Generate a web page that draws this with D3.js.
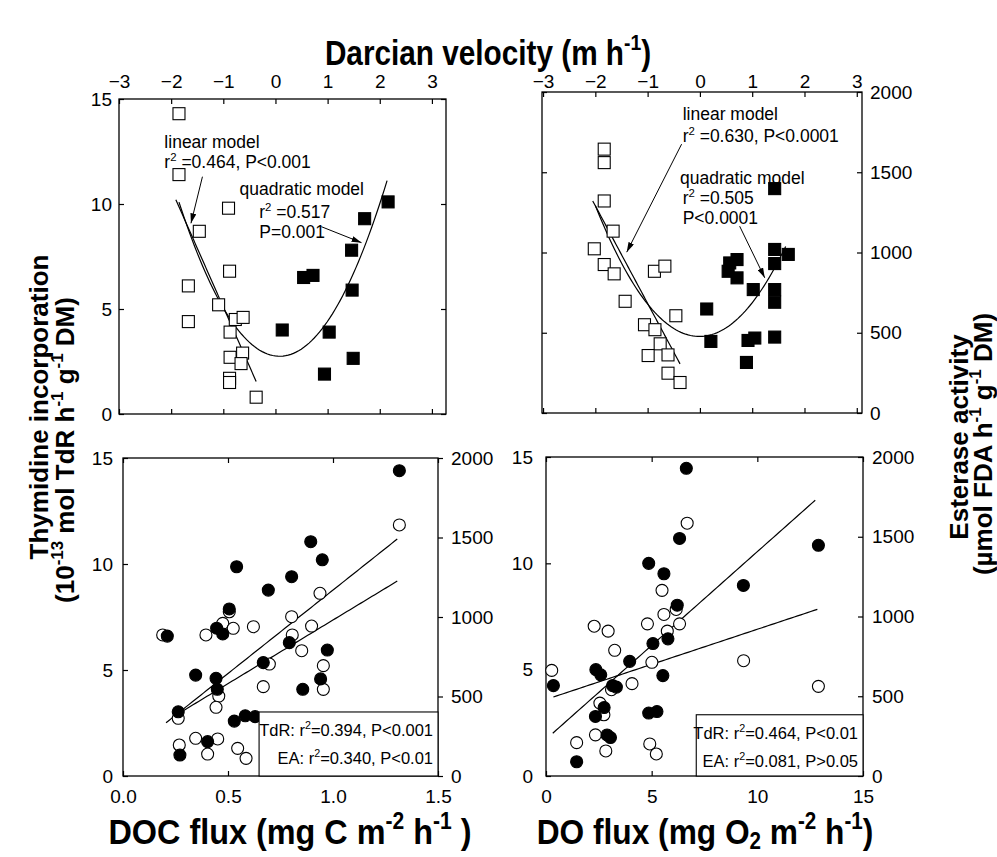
<!DOCTYPE html>
<html>
<head>
<meta charset="UTF-8">
<title>Darcian velocity</title>
<script src="https://d3js.org/d3.v7.min.js"></script>
<style>
  body { margin: 0; background: #fff; }
  svg { font-family: "Liberation Sans", Arial, Helvetica, sans-serif; }
  .tick text { font-size: 19px; fill: #000; font-family: "Liberation Sans", Arial, Helvetica, sans-serif; }
  .tick line { stroke: #000; stroke-width: 1.2; }
  .frame { fill: none; stroke: #000; stroke-width: 1.3; }
  .fit { fill: none; stroke: #000; stroke-width: 1.2; }
</style>
</head>
<body>
<svg width="997" height="857"></svg>
<script>
// ---- tick values ----
const velTicks = [-3, -2, -1, 0, 1, 2, 3];
const tdrTicks = [0, 5, 10, 15];
const eaTicks = [0, 500, 1000, 1500, 2000];
const docTicks = [0, 0.5, 1.0, 1.5];
const doTicks = [0, 5, 10, 15];

// ---- top left: thymidine incorporation vs Darcian velocity ----
const tdrVelDown = [[-1.85, 14.3], [-1.85, 11.4], [-0.90, 9.8], [-1.46, 8.7], [-0.88, 6.8], [-1.67, 6.1],
  [-1.09, 5.2], [-1.67, 4.4], [-0.77, 4.5], [-0.62, 4.6], [-0.87, 3.9], [-0.87, 2.7], [-0.63, 2.9],
  [-0.66, 2.4], [-0.88, 1.7], [-0.88, 1.5], [-0.37, 0.8]];
const tdrVelUp = [[2.16, 10.1], [1.71, 9.3], [1.46, 7.8], [0.54, 6.5], [0.72, 6.6], [1.47, 5.9],
  [0.13, 4.0], [1.03, 3.9], [1.49, 2.65], [0.94, 1.9]];

// ---- top right: esterase activity vs Darcian velocity ----
const eaVelDown = [[-1.83, 1644], [-1.83, 1560], [-1.83, 1321], [-1.66, 1133], [-2.02, 1023], [-1.83, 925],
  [-1.64, 867], [-0.87, 883], [-0.67, 915], [-1.43, 696], [-0.46, 606], [-1.06, 550], [-0.86, 519],
  [-0.76, 431], [-0.99, 358], [-0.61, 362], [-0.61, 248], [-0.38, 190]];
const eaVelUp = [[1.43, 1398], [1.43, 1019], [1.69, 988], [1.43, 931], [0.57, 935], [0.71, 956], [0.54, 883],
  [0.71, 842], [1.02, 769], [1.43, 769], [1.43, 690], [0.13, 648], [0.21, 446], [0.92, 452], [1.05, 467],
  [1.43, 473], [0.89, 315]];

// ---- bottom left: DOC flux ----
const docTdR = [[1.316, 14.4], [0.894, 11.05], [0.949, 10.2], [0.541, 9.87], [0.803, 9.4], [0.692, 8.77],
  [0.506, 7.88], [0.211, 6.6], [0.446, 6.97], [0.475, 6.7], [0.792, 6.29], [0.973, 5.94], [0.668, 5.35],
  [0.346, 4.76], [0.443, 4.61], [0.449, 4.09], [0.941, 4.58], [0.856, 4.09], [0.263, 3.03], [0.53, 2.59],
  [0.582, 2.84], [0.629, 2.8], [0.403, 1.62], [0.271, 0.99]];
const docEA = [[1.316, 1579], [0.938, 1149], [0.506, 1033], [0.803, 1002], [0.189, 887], [0.395, 887],
  [0.475, 960], [0.525, 929], [0.621, 939], [0.898, 943], [0.806, 887], [0.851, 788], [0.697, 704],
  [0.954, 694], [0.668, 562], [0.954, 545], [0.456, 503], [0.443, 432], [0.263, 363], [0.268, 195],
  [0.346, 237], [0.451, 233], [0.403, 138], [0.546, 174], [0.586, 111]];

// ---- bottom right: DO flux ----
const doTdR = [[6.64, 14.47], [6.32, 11.17], [4.86, 10.0], [5.58, 9.51], [9.34, 8.96], [6.21, 8.03],
  [5.06, 6.23], [5.77, 6.45], [3.96, 5.39], [2.36, 5.0], [2.59, 4.76], [5.53, 4.72], [0.35, 4.25],
  [3.15, 4.25], [3.33, 4.18], [2.75, 3.22], [2.34, 2.8], [4.86, 2.96], [5.25, 3.03], [2.89, 1.93],
  [3.05, 1.81], [1.45, 0.67], [12.89, 10.85]];
const doEA = [[6.68, 1585], [5.49, 1164], [5.58, 1013], [6.16, 1044], [6.32, 954], [5.74, 908], [4.80, 954],
  [2.28, 939], [2.94, 908], [3.25, 788], [5.01, 713], [0.27, 662], [4.07, 579], [3.10, 541], [2.55, 457],
  [2.74, 384], [2.34, 258], [1.45, 209], [2.83, 157], [4.91, 201], [5.22, 138], [9.35, 723], [12.89, 562]];

// ---- fitted models: polynomial coefficients [c0, c1, c2] and x range ----
const tdrVelLinear = { coef: [-0.53, -5.62], range: [-1.91, -0.37] };
const tdrVelQuad = { coef: [2.763, -0.315, 1.97], range: [-1.85, 2.14] };
const eaVelLinear = { coef: [75, -608], range: [-2.05, -0.38] };
const eaVelQuad = { coef: [477, 4.1, 206], range: [-2.0, 1.64] };
const docTdRFit = { coef: [0.90, 7.87], range: [0.205, 1.306] };
const docEAFit = { coef: [181, 800], range: [0.24, 1.306] };
const doTdRFit = { coef: [1.73, 0.882], range: [0.32, 12.74] };
const doEAFit = { coef: [480, 44], range: [0.35, 12.84] };

const svg = d3.select('svg');

const defs = svg.append('defs');
defs.append('marker').attr('id', 'arrow')
  .attr('viewBox', '0 0 10 6').attr('refX', 10).attr('refY', 3)
  .attr('markerWidth', 10).attr('markerHeight', 6).attr('markerUnits', 'userSpaceOnUse')
  .attr('orient', 'auto')
  .append('path').attr('d', 'M0,0 L10,3 L0,6 Z').attr('fill', '#000');

// text with super/subscripts
function rich(text, parts, size) {
  let shift = 0;
  parts.forEach(([t, mode]) => {
    const target = mode === 'sup' ? -0.42 : mode === 'sub' ? 0.14 : 0;
    text.append('tspan')
      .attr('dy', ((target - shift) * size).toFixed(2))
      .style('font-size', (mode ? size * 0.65 : size) + 'px')
      .text(t);
    shift = target;
  });
}

function label(x, y, parts, size, opt = {}) {
  const g = svg.append('g')
    .attr('transform', `translate(${x},${y}) rotate(${opt.rotate || 0}) scale(${opt.sx || 1},1)`);
  const t = g.append('text')
    .attr('text-anchor', opt.anchor || 'start')
    .style('font-size', size + 'px')
    .style('font-weight', opt.bold ? 'bold' : 'normal');
  rich(t, parts, size);
}

function polyCurve(fit, x, y) {
  const n = 80;
  const pts = d3.range(n + 1).map(i => {
    const v = fit.range[0] + (fit.range[1] - fit.range[0]) * i / n;
    const val = fit.coef.reduce((s, c, k) => s + c * Math.pow(v, k), 0);
    return [x(v), y(val)];
  });
  svg.append('path').attr('class', 'fit').attr('d', d3.line()(pts));
}

function frameAndAxes(p) {
  const [x0, x1] = p.x.range();
  const [yb, yt] = p.y.range();
  const clean = g => g.select('.domain').remove();

  svg.append('g').attr('transform', `translate(0,${yt})`)
    .call(d3.axisTop(p.x).tickValues(p.xTicks).tickSizeInner(-5).tickSizeOuter(0)
      .tickPadding(p.topPad || 0).tickFormat(p.topLabels ? p.xFmt : ''))
    .call(clean);
  svg.append('g').attr('transform', `translate(0,${yb})`)
    .call(d3.axisBottom(p.x).tickValues(p.xTicks).tickSizeInner(-5).tickSizeOuter(0)
      .tickPadding(p.bottomPad || 0).tickFormat(p.bottomLabels ? p.xFmt : ''))
    .call(clean);
  svg.append('g').attr('transform', `translate(${x0},0)`)
    .call(d3.axisLeft(p.y).tickValues(p.yTicks).tickSizeInner(-5).tickSizeOuter(0)
      .tickPadding(p.leftPad || 0).tickFormat(p.leftLabels ? d3.format('d') : ''))
    .call(clean);
  const yr = p.y2 || p.y;
  svg.append('g').attr('transform', `translate(${x1},0)`)
    .call(d3.axisRight(yr).tickValues(p.y2Ticks || p.yTicks).tickSizeInner(p.rightOut ? 5 : -5).tickSizeOuter(0)
      .tickPadding(p.rightPad || 0).tickFormat(p.rightLabels ? d3.format('d') : ''))
    .call(clean);

  svg.append('rect').attr('class', 'frame')
    .attr('x', x0).attr('y', yt).attr('width', x1 - x0).attr('height', yb - yt);
}

function squares(data, x, y, filled) {
  const s = 12;
  svg.append('g').selectAll('rect').data(data).join('rect')
    .attr('x', d => x(d[0]) - s / 2).attr('y', d => y(d[1]) - s / 2)
    .attr('width', s).attr('height', s)
    .attr('fill', filled ? '#000' : '#fff').attr('stroke', '#000').attr('stroke-width', 1.1);
}

function circles(data, x, y, filled) {
  svg.append('g').selectAll('circle').data(data).join('circle')
    .attr('cx', d => x(d[0])).attr('cy', d => y(d[1])).attr('r', 6)
    .attr('fill', filled ? '#000' : '#fff').attr('stroke', '#000').attr('stroke-width', 1.1);
}

function arrow(x, y, from, to) {
  svg.append('line')
    .attr('x1', x(from[0])).attr('y1', y(from[1]))
    .attr('x2', x(to[0])).attr('y2', y(to[1]))
    .attr('stroke', '#000').attr('stroke-width', 1).attr('marker-end', 'url(#arrow)');
}

function statsBox(x, y, x0, y0, lines) {
  const [, x1] = x.range();
  const [yb] = y.range();
  svg.append('rect').attr('x', x(x0)).attr('y', y(y0))
    .attr('width', x1 - x(x0)).attr('height', yb - y(y0))
    .attr('fill', '#fff').attr('stroke', '#000').attr('stroke-width', 1.1);
  lines.forEach((parts, i) => {
    label(x1 - 5, y(y0) + 24 + i * 28, parts, 16.5, { anchor: 'end' });
  });
}

const velFmt = d3.format('d');

// ---------- top left ----------
{
  const x = d3.scaleLinear().domain([-3, 3.27]).range([119, 446]);
  const y = d3.scaleLinear().domain([0, 15]).range([414, 99]);
  frameAndAxes({ x, y, xTicks: velTicks, yTicks: tdrTicks, xFmt: velFmt,
    topLabels: true, topPad: 11, leftLabels: true, leftPad: 7 });
  polyCurve(tdrVelLinear, x, y);
  polyCurve(tdrVelQuad, x, y);
  squares(tdrVelDown, x, y, false);
  squares(tdrVelUp, x, y, true);
  label(x(-2.13), y(12.67), [['linear model']], 17.5);
  label(x(-2.13), y(11.71), [['r'], ['2', 'sup'], [' =0.464, P<0.001']], 17.5);
  arrow(x, y, [-1.40, 11.3], [-1.62, 9.08]);
  label(x(-0.69), y(10.45), [['quadratic model']], 17.5);
  label(x(-0.31), y(9.33), [['r'], ['2', 'sup'], [' =0.517']], 17.5);
  label(x(-0.31), y(8.38), [['P=0.001']], 17.5);
  arrow(x, y, [0.88, 8.92], [1.65, 8.16]);
}

// ---------- top right ----------
{
  const x = d3.scaleLinear().domain([-3.02, 3.1]).range([542, 862]);
  const y = d3.scaleLinear().domain([0, 2000]).range([413, 92]);
  frameAndAxes({ x, y, xTicks: velTicks, yTicks: eaTicks, xFmt: velFmt,
    topLabels: true, topPad: 4, rightLabels: true, rightPad: 8 });
  polyCurve(eaVelLinear, x, y);
  polyCurve(eaVelQuad, x, y);
  squares(eaVelDown, x, y, false);
  squares(eaVelUp, x, y, true);
  label(x(-0.33), y(1825), [['linear model']], 17.5);
  label(x(-0.33), y(1688), [['r'], ['2', 'sup'], [' =0.630, P<0.0001']], 17.5);
  arrow(x, y, [-0.35, 1675], [-1.40, 1002]);
  label(x(-0.38), y(1428), [['quadratic model']], 17.5);
  label(x(-0.33), y(1303), [['r'], ['2', 'sup'], [' =0.505']], 17.5);
  label(x(-0.33), y(1178), [['P<0.0001']], 17.5);
  arrow(x, y, [0.76, 1164], [1.24, 842]);
}

// ---------- bottom left ----------
{
  const x = d3.scaleLinear().domain([0, 1.5]).range([123, 438]);
  const y = d3.scaleLinear().domain([0, 15]).range([776, 458]);
  const y2 = d3.scaleLinear().domain([0, 2000]).range([776, 458]);
  frameAndAxes({ x, y, y2, xTicks: docTicks, yTicks: tdrTicks, y2Ticks: eaTicks, xFmt: d3.format('.1f'),
    bottomLabels: true, bottomPad: 14, leftLabels: true, leftPad: 10, rightLabels: true, rightPad: 8, rightOut: true });
  polyCurve(docTdRFit, x, y);
  polyCurve(docEAFit, x, y2);
  circles(docEA, x, y2, false);
  circles(docTdR, x, y, true);
  statsBox(x, y, 0.648, 3.02, [
    [['TdR: r'], ['2', 'sup'], ['=0.394, P<0.001']],
    [['EA: r'], ['2', 'sup'], ['=0.340, P<0.01']]
  ]);
}

// ---------- bottom right ----------
{
  const x = d3.scaleLinear().domain([0, 15]).range([546, 863]);
  const y = d3.scaleLinear().domain([0, 15]).range([776, 457]);
  const y2 = d3.scaleLinear().domain([0, 2000]).range([776, 457]);
  frameAndAxes({ x, y, y2, xTicks: doTicks, yTicks: tdrTicks, y2Ticks: eaTicks, xFmt: d3.format('d'),
    bottomLabels: true, bottomPad: 14, leftLabels: true, leftPad: 13, rightLabels: true, rightPad: 9 });
  polyCurve(doTdRFit, x, y);
  polyCurve(doEAFit, x, y2);
  circles(doEA, x, y2, false);
  circles(doTdR, x, y, true);
  statsBox(x, y, 7.11, 2.88, [
    [['TdR: r'], ['2', 'sup'], ['=0.464, P<0.01']],
    [['EA: r'], ['2', 'sup'], ['=0.081, P>0.05']]
  ]);
}

// ---------- axis titles ----------
label(488, 65, [['Darcian velocity (m h'], ['-1', 'sup'], [')']], 35, { anchor: 'middle', bold: true, sx: 0.85 });
label(290, 844, [['DOC flux (mg C m'], ['-2', 'sup'], [' h'], ['-1', 'sup'], [' )']], 36, { anchor: 'middle', bold: true, sx: 0.9 });
label(705, 844, [['DO flux (mg O'], ['2', 'sub'], [' m'], ['-2', 'sup'], [' h'], ['-1', 'sup'], [')']], 36, { anchor: 'middle', bold: true, sx: 0.88 });
label(48, 407, [['Thymidine incorporation']], 26, { anchor: 'middle', bold: true, rotate: -90 });
label(74, 450, [['(10'], ['-13', 'sup'], [' mol TdR h'], ['-1', 'sup'], [' g'], ['-1', 'sup'], [' DM)']], 26, { anchor: 'middle', bold: true, rotate: -90 });
label(968, 437, [['Esterase activity']], 26, { anchor: 'middle', bold: true, rotate: -90 });
label(992, 444, [['(µmol FDA h'], ['-1', 'sup'], [' g'], ['-1', 'sup'], [' DM)']], 26, { anchor: 'middle', bold: true, rotate: -90 });
</script>
</body>
</html>
